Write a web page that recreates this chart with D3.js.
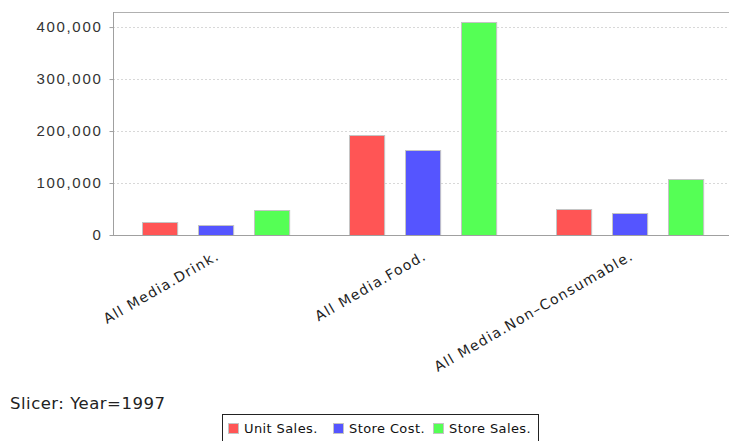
<!DOCTYPE html>
<html>
<head>
<meta charset="utf-8">
<script src="https://cdn.jsdelivr.net/npm/d3@7"></script>
<style>
  body { margin: 0; background: #fff; }
  svg { display: block; font-family: "DejaVu Sans", sans-serif; }
</style>
</head>
<body>
<div id="chart"></div>
<script>
const categories = ["All Media.Drink.", "All Media.Food.", "All Media.Non-Consumable."];
const seriesNames = ["Unit Sales.", "Store Cost.", "Store Sales."];
const unitSales = [24597, 191940, 50236];
const storeCost = [19477, 163271, 42879];
const storeSales = [48836, 409036, 107366];
const yTicks = [0, 100000, 200000, 300000, 400000];
const slicerText = "Slicer: Year=1997";

const colors = ["#ff5555", "#5555ff", "#55ff55"];
const series = [unitSales, storeCost, storeSales];

const W = 729, H = 441;
const margin = {top: 12, left: 113},
    width = 621,
    height = 223;

const svg = d3.select("#chart")
  .append("svg")
    .attr("width", W)
    .attr("height", H);

const g = svg.append("g")
    .attr("transform", `translate(${margin.left},${margin.top})`);

const x0 = d3.scaleBand()
    .domain(categories)
    .range([0, width])
    .padding(0);

const x1 = d3.scaleBand()
    .domain(seriesNames)
    .range([0, x0.bandwidth()])
    .paddingInner(0.37)
    .paddingOuter(0.54);

const y = d3.scaleLinear()
    .domain([0, 429000])
    .range([height, 0]);

// dashed grid
g.append("g")
  .selectAll("line")
  .data(yTicks.filter(d => d > 0))
  .join("line")
    .attr("x1", 0)
    .attr("x2", width)
    .attr("y1", d => Math.round(y(d)) + 0.5)
    .attr("y2", d => Math.round(y(d)) + 0.5)
    .attr("stroke", "#d8d8d8")
    .attr("stroke-dasharray", "2,2");

// top border
g.append("line")
    .attr("x1", 0).attr("x2", width)
    .attr("y1", 0.5).attr("y2", 0.5)
    .attr("stroke", "#b0b0b0");

// bars
const rows = categories.map((c, i) => ({cat: c, vals: series.map((s, j) => ({name: seriesNames[j], v: s[i], color: colors[j]}))}));

g.append("g")
  .selectAll("g")
  .data(rows)
  .join("g")
    .attr("transform", d => `translate(${x0(d.cat)},0)`)
  .selectAll("rect")
  .data(d => d.vals)
  .join("rect")
    .attr("x", d => Math.round(x1(d.name)) - 0.5)
    .attr("y", d => Math.round(y(d.v)) + 0.5)
    .attr("width", x1.bandwidth())
    .attr("height", d => height - Math.round(y(d.v)))
    .attr("fill", d => d.color)
    .attr("stroke", "#c4c4c4")
    .attr("stroke-width", 1);

// y axis
const yAxis = g.append("g")
    .attr("transform", "translate(0.5,0)")
    .call(d3.axisLeft(y).tickValues(yTicks).tickSize(4).tickPadding(7).tickSizeOuter(0)
      .tickFormat(d3.format(",")));
yAxis.select(".domain").attr("stroke", "#a0a0a0").attr("d", `M0,0V${height}`);
yAxis.selectAll(".tick line").attr("stroke", "#a0a0a0");
yAxis.selectAll("text")
    .attr("fill", "#333")
    .style("font-size", "15px")
    .style("letter-spacing", "1.7px");

// x axis
const xAxis = g.append("g")
    .attr("transform", `translate(0,${height + 0.5})`);
xAxis.append("line")
    .attr("x1", 0).attr("x2", width)
    .attr("stroke", "#a0a0a0");

xAxis.selectAll("text")
  .data(categories)
  .join("text")
    .attr("transform", d => `translate(${x0(d) + x0.bandwidth() / 2 + 4},23) rotate(-30)`)
    .attr("text-anchor", "end")
    .attr("fill", "#222")
    .style("font-size", "14px")
    .style("letter-spacing", "1.3px")
    .text(d => d.replace("-", "\u2013"));

// slicer
svg.append("text")
    .attr("x", 10)
    .attr("y", 409)
    .attr("fill", "#222")
    .style("font-size", "16.5px")
    .style("letter-spacing", "0.5px")
    .text(slicerText);

// legend
const legend = svg.append("g").attr("transform", "translate(222,414)");
legend.append("rect")
    .attr("x", 0.5).attr("y", 0.5)
    .attr("width", 316).attr("height", 40)
    .attr("fill", "#fff")
    .attr("stroke", "#222");

const legendX = [6, 111, 211];
const item = legend.selectAll("g.item")
  .data(seriesNames)
  .join("g")
    .attr("class", "item")
    .attr("transform", (d, i) => `translate(${legendX[i]},9)`);
item.append("rect")
    .attr("x", 0.5).attr("y", 0.5)
    .attr("width", 10).attr("height", 10)
    .attr("fill", (d, i) => colors[i])
    .attr("stroke", "#c4c4c4");
item.append("text")
    .attr("x", 16)
    .attr("y", 10)
    .attr("fill", "#111")
    .style("font-size", "13px")
    .style("letter-spacing", "0.4px")
    .text(d => d);
</script>
</body>
</html>
